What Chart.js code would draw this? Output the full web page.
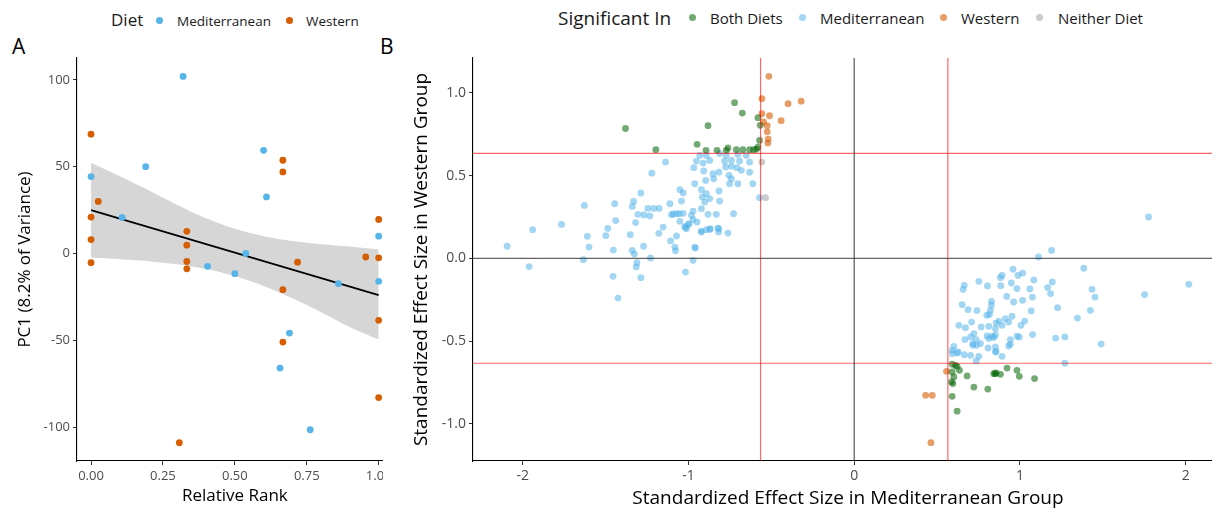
<!DOCTYPE html>
<html><head><meta charset="utf-8">
<script src="https://cdn.jsdelivr.net/npm/chart.js@4.4.1/dist/chart.umd.min.js"></script>
<style>
html,body{margin:0;padding:0;background:#fff}
body{width:1212px;height:508px;overflow:hidden;position:relative;font-family:"Open Sans",sans-serif}
#wrapA{position:absolute;left:0;top:0;width:383px;height:508px;overflow:hidden}
#wrapB{position:absolute;left:385px;top:0;width:827px;height:508px;overflow:hidden}
canvas{position:absolute;left:0;top:0}
.t{position:absolute;white-space:nowrap;color:#1a1a1a}
.dot{position:absolute;border-radius:50%}
</style>
</head><body>
<div class="t" style="left:12px;top:36px;font-size:21px;line-height:21px;color:#000">A</div>
<div class="t" style="left:380px;top:36px;font-size:21px;line-height:21px;color:#000">B</div>

<div class="t" style="left:111px;top:10px;font-size:17px;line-height:20px">Diet</div>
<span class="dot" style="left:156px;top:17px;width:7px;height:7px;background:#56B4E9"></span>
<div class="t" style="left:177px;top:11px;font-size:13.5px;line-height:20px">Mediterranean</div>
<span class="dot" style="left:286px;top:17px;width:7px;height:7px;background:#D55E00"></span>
<div class="t" style="left:306px;top:11px;font-size:13.5px;line-height:20px">Western</div>

<div class="t" style="left:558px;top:6px;font-size:19px;line-height:24px">Significant In</div>
<span class="dot" style="left:689px;top:14px;width:7px;height:7px;background:rgba(0,100,0,0.55)"></span>
<div class="t" style="left:710px;top:8px;font-size:15px;line-height:20px">Both Diets</div>
<span class="dot" style="left:799px;top:14px;width:7px;height:7px;background:rgba(86,180,233,0.55)"></span>
<div class="t" style="left:820px;top:8px;font-size:15px;line-height:20px">Mediterranean</div>
<span class="dot" style="left:940px;top:14px;width:7px;height:7px;background:rgba(213,94,0,0.6)"></span>
<div class="t" style="left:961px;top:8px;font-size:15px;line-height:20px">Western</div>
<span class="dot" style="left:1036px;top:14px;width:7px;height:7px;background:rgba(153,153,153,0.5)"></span>
<div class="t" style="left:1058px;top:8px;font-size:15px;line-height:20px">Neither Diet</div>

<div id="wrapA"><canvas id="cA" width="420" height="508"></canvas></div>
<div id="wrapB"><canvas id="cB" width="842" height="508"></canvas></div>

<script>
// ---------- Panel A data ----------
const medRank  = [0.32, 0, 0.19, 0.60, 0.61, 0.108, 1, 0.538, 0.405, 0.5, 0.86, 1, 0.69, 0.657, 0.762];
const medPC1   = [102, 44.3, 50, 59.4, 32.6, 20.8, 10, 0, -7.4, -11.6, -17.4, -16, -45.8, -66, -101.5];
const westRank = [0, 0.667, 0.667, 0.025, 0, 0, 0.333, 0.333, 1, 0.955, 1, 0, 0.333, 0.333, 0.718, 0.667, 1, 0.667, 1, 0.307];
const westPC1  = [68.7, 53.7, 47, 30, 21, 8, 12.8, 4.8, 19.6, -2, -2.5, -5.3, -4.6, -8.8, -5, -20.8, -38.5, -51, -83, -109];
const fitRank  = [0, 1];
const fitPC1   = [25, -24];
const bandRank  = [0, 0.1, 0.2, 0.3, 0.4, 0.5, 0.6, 0.7, 0.8, 0.9, 1];
const bandUpper = [52.3, 44.5, 36.5, 28, 20.3, 14.2, 10, 7.2, 5.4, 4, 2.3];
const bandLower = [-2.3, -3.3, -4.4, -6.2, -8.9, -13, -18.7, -25.8, -33.8, -42.4, -49.5];
const aXTicks  = [0, 0.25, 0.5, 0.75, 1];
const aXLabels = ["0.00", "0.25", "0.50", "0.75", "1.00"];
const aYTicks  = [-100, -50, 0, 50, 100];
const aYLabels = ["-100", "-50", "0", "50", "100"];

// ---------- Panel B data (Mediterranean effect, Western effect) ----------
const bothDiets = [[-0.722,0.941],[-0.675,0.878],[-0.882,0.802],[-1.38,0.785],[-0.948,0.689],[-1.197,0.657],[-0.894,0.653],[-0.828,0.653],[-0.772,0.653],[-0.762,0.667],[-0.711,0.657],[-0.672,0.657],[-0.631,0.657],[-0.607,0.657],[-0.581,0.850],[-0.567,0.804],[-0.571,0.713],[-0.581,0.672],[-0.59,0.66],
  [0.591,-0.640],[0.611,-0.647],[0.621,-0.653],[0.635,-0.677],[0.591,-0.687],[0.601,-0.717],[0.587,-0.747],[0.595,-0.757],[0.681,-0.711],[0.722,-0.778],[0.806,-0.790],[0.842,-0.697],[0.856,-0.693],[0.850,-0.697],[0.882,-0.701],[0.922,-0.663],[0.982,-0.677],[0.996,-0.713],[1.088,-0.727],[0.591,-0.834],[0.621,-0.924]];
const mediterranean = [[-1.221,0.515],[-1.287,0.395],[-1.331,0.344],[-1.339,0.314],[-1.445,0.330],[-1.628,0.320],[-1.305,0.266],[-1.269,0.262],[-1.233,0.256],[-1.245,0.302],[-1.209,0.302],[-1.177,0.302],[-1.439,0.228],[-1.319,0.216],[-1.766,0.205],[-1.940,0.173],[-1.487,0.181],[-1.499,0.137],[-1.610,0.133],[-1.351,0.143],[-1.179,0.151],[-2.094,0.073],[-1.600,0.068],[-1.453,0.050],[-1.339,0.048],[-1.271,0.073],[-1.327,0.026],[-1.634,-0.008],[-1.311,-0.026],[-1.315,-0.052],[-1.229,0.002],[-1.962,-0.050],[-1.455,-0.109],[-1.287,-0.117],[-1.425,-0.240],
  [-1.138,0.582],[-0.932,0.622],[-0.892,0.622],[-0.812,0.633],[-0.772,0.622],[-0.702,0.628],[-0.651,0.622],[-0.952,0.588],[-0.912,0.576],[-0.872,0.592],[-0.782,0.588],[-0.741,0.592],[-0.692,0.588],[-0.631,0.582],[-0.968,0.548],[-0.908,0.528],[-0.852,0.512],[-0.816,0.521],[-0.776,0.552],[-0.741,0.556],[-0.708,0.548],[-0.631,0.521],[-0.756,0.502],[-0.741,0.481],[-0.681,0.532],[-0.896,0.471],[-0.848,0.481],[-0.752,0.451],[-0.702,0.451],[-0.612,0.451],[-0.962,0.451],[-0.922,0.415],[-1.052,0.415],[-1.032,0.395],[-0.816,0.407],[-0.892,0.391],[-0.916,0.371],[-0.872,0.361],[-0.812,0.346],[-0.902,0.340],[-1.042,0.346],[-1.112,0.330],[-0.571,0.367],[-0.922,0.300],[-0.972,0.286],[-1.056,0.270],[-1.092,0.268],[-1.032,0.272],[-0.882,0.266],[-0.832,0.266],[-0.728,0.270],[-0.982,0.260],[-0.972,0.234],[-1.052,0.224],[-1.022,0.193],[-0.996,0.209],[-0.948,0.219],[-1.012,0.179],[-1.153,0.189],[-0.922,0.165],[-0.892,0.173],[-0.868,0.179],[-0.818,0.179],[-0.818,0.159],[-0.762,0.153],[-1.108,0.105],[-1.082,0.068],[-0.962,0.068],
  [-1.102,0.264],[-1.072,0.270],[-1.002,0.204],[-1.018,0.186],[-1.072,0.135],[-0.922,0.159],[-0.872,0.175],[-0.822,0.183],[-1.078,0.046],[-0.958,0.062],[-0.972,-0.012],[-1.018,-0.083],
  [1.776,0.250],[1.191,0.048],[1.112,0.008],[1.385,-0.060],[1.084,-0.131],[1.195,-0.143],[1.060,-0.185],[1.167,-0.177],[1.185,-0.213],[1.075,-0.234],[1.435,-0.187],[1.453,-0.234],[1.752,-0.219],[2.019,-0.157],[1.068,-0.318],[1.227,-0.298],[1.425,-0.314],[1.347,-0.361],[1.076,-0.461],[1.215,-0.482],[1.271,-0.475],[1.490,-0.518],[1.271,-0.634],
  [0.958,-0.066],[0.892,-0.103],[0.882,-0.117],[0.988,-0.103],[1.016,-0.089],[0.752,-0.139],[0.664,-0.163],[0.657,-0.189],[0.804,-0.167],[0.884,-0.165],[0.948,-0.149],[0.982,-0.183],[0.920,-0.230],[0.962,-0.264],[1.016,-0.254],[0.828,-0.260],[0.828,-0.284],[0.651,-0.280],[0.687,-0.310],[0.740,-0.316],[0.822,-0.314],[0.800,-0.344],[0.816,-0.340],[0.912,-0.365],[0.952,-0.350],[0.872,-0.379],[0.856,-0.391],[1.028,-0.379],[1.006,-0.405],[0.932,-0.385],[0.892,-0.405],[0.708,-0.385],[0.631,-0.405],[0.671,-0.419],[0.766,-0.415],[0.812,-0.411],[0.852,-0.425],[0.722,-0.455],[0.802,-0.469],[0.832,-0.471],[0.852,-0.465],[0.812,-0.485],[0.842,-0.479],[0.942,-0.491],[0.982,-0.471],[0.996,-0.475],[0.736,-0.491],[0.668,-0.491],[0.702,-0.475],[0.738,-0.526],[0.716,-0.526],[0.808,-0.542],[0.852,-0.536],[0.932,-0.530],[0.601,-0.532],[0.591,-0.556],[0.627,-0.566],[0.664,-0.582],[0.702,-0.586],[0.752,-0.592],[0.856,-0.562],[0.892,-0.592],
  [0.736,-0.620],[0.591,-0.576],[0.621,-0.572],[0.852,-0.566],[0.942,-0.520],[0.762,-0.515],[0.716,-0.515]];
const western = [[-0.515,1.10],[-0.557,0.965],[-0.399,0.935],[-0.32,0.95],[-0.557,0.874],[-0.511,0.862],[-0.441,0.832],[-0.525,0.802],[-0.525,0.765],[-0.519,0.721],[-0.521,0.697],[-0.547,0.824],
  [0.557,-0.683],[0.431,-0.828],[0.471,-0.828],[0.463,-1.114]];
const neitherDiet = [[-0.557,0.582],[-0.535,0.367]];
const thresholdMed  = 0.565;   // significance cut-off, Mediterranean
const thresholdWest = 0.634;   // significance cut-off, Western
const bXTicks  = [-2, -1, 0, 1, 2];
const bXLabels = ["-2", "-1", "0", "1", "2"];
const bYTicks  = [-1, -0.5, 0, 0.5, 1];
const bYLabels = ["-1.0", "-0.5", "0.0", "0.5", "1.0"];

// ---------- helpers ----------
const FONT = '"Open Sans", sans-serif';
const TICK = '#4D4D4D';
const pts = (xs, ys) => xs.map((x, i) => ({x: x, y: ys[i]}));
const pairs = arr => arr.map(p => ({x: p[0], y: p[1]}));

function axis(opts) {
  return {
    type: 'linear',
    position: opts.position,
    min: opts.min, max: opts.max,
    afterBuildTicks: s => { s.ticks = opts.ticks.map(v => ({value: v})); },
    afterFit: s => { if (opts.width) s.width = opts.width; if (opts.height) s.height = opts.height; },
    ticks: {
      autoSkip: false, maxRotation: 0, includeBounds: false,
      color: TICK, font: {family: FONT, size: opts.tickSize}, padding: 3,
      callback: (v, i) => opts.labels[i]
    },
    grid: {display: true, drawOnChartArea: false, drawTicks: true, tickLength: 4, tickColor: '#333', color: '#333'},
    border: {display: true, color: '#000', width: 1.1},
    title: {display: true, text: opts.title, color: '#000',
            font: {family: FONT, size: opts.titleSize, lineHeight: 1}, padding: opts.titlePad}
  };
}

// ---------- Panel A ----------
new Chart(document.getElementById('cA'), {
  type: 'scatter',
  data: {
    datasets: [
      {type: 'line', label: 'upper', data: pts(bandRank, bandUpper), borderWidth: 0, pointRadius: 0,
       fill: '+1', backgroundColor: 'rgba(153,153,153,0.4)', tension: 0.3, order: 3},
      {type: 'line', label: 'lower', data: pts(bandRank, bandLower), borderWidth: 0, pointRadius: 0,
       fill: false, tension: 0.3, order: 3},
      {type: 'line', label: 'fit', data: pts(fitRank, fitPC1), borderColor: '#000', borderWidth: 1.7,
       pointRadius: 0, fill: false, order: 2},
      {label: 'Mediterranean', data: pts(medRank, medPC1), backgroundColor: '#56B4E9',
       pointRadius: 3.4, borderWidth: 0, order: 1},
      {label: 'Western', data: pts(westRank, westPC1), backgroundColor: '#D55E00',
       pointRadius: 3.4, borderWidth: 0, order: 1}
    ]
  },
  options: {
    responsive: false, animation: false, events: [],
    layout: {padding: {top: 58, left: 0, right: 27.3, bottom: 0}},
    plugins: {legend: {display: false}, tooltip: {enabled: false}},
    scales: {
      x: axis({position: 'bottom', min: -0.0488, max: 1.0488, ticks: aXTicks, labels: aXLabels,
               height: 47, tickSize: 13, title: 'Relative Rank', titleSize: 17, titlePad: {top: 0, bottom: 3}}),
      y: axis({position: 'left', min: -119.5, max: 112.6, ticks: aYTicks, labels: aYLabels,
               width: 77, tickSize: 13, title: 'PC1 (8.2% of Variance)', titleSize: 17, titlePad: {top: 16.5, bottom: 0}})
    }
  }
});

// ---------- Panel B ----------
const refLine = (data, color, w) => ({type: 'line', data: data, borderColor: color, borderWidth: w,
  pointRadius: 0, fill: false, order: 0});
const ptSet = (label, arr, color) => ({label: label, data: pairs(arr), backgroundColor: color,
  pointRadius: 3.4, borderWidth: 0, order: 1});

new Chart(document.getElementById('cB'), {
  type: 'scatter',
  data: {
    datasets: [
      refLine([{x: 0, y: -5}, {x: 0, y: 5}], 'rgba(60,60,60,0.8)', 1.3),
      refLine([{x: -5, y: 0}, {x: 5, y: 0}], 'rgba(60,60,60,0.8)', 1.3),
      refLine([{x: -thresholdMed, y: -5}, {x: -thresholdMed, y: 5}], 'rgba(255,0,0,0.6)', 1.2),
      refLine([{x: thresholdMed, y: -5}, {x: thresholdMed, y: 5}], 'rgba(255,0,0,0.6)', 1.2),
      refLine([{x: -5, y: thresholdWest}, {x: 5, y: thresholdWest}], 'rgba(255,0,0,0.6)', 1.2),
      refLine([{x: -5, y: -thresholdWest}, {x: 5, y: -thresholdWest}], 'rgba(255,0,0,0.6)', 1.2),
      ptSet('Both Diets', bothDiets, 'rgba(0,100,0,0.55)'),
      ptSet('Mediterranean', mediterranean, 'rgba(86,180,233,0.55)'),
      ptSet('Western', western, 'rgba(213,94,0,0.6)'),
      ptSet('Neither Diet', neitherDiet, 'rgba(153,153,153,0.5)')
    ]
  },
  options: {
    responsive: false, animation: false, events: [],
    layout: {padding: {top: 58, left: 0, right: 0, bottom: 0}},
    plugins: {legend: {display: false}, tooltip: {enabled: false}},
    scales: {
      x: axis({position: 'bottom', min: -2.30, max: 2.225, ticks: bXTicks, labels: bXLabels,
               height: 47, tickSize: 14, title: 'Standardized Effect Size in Mediterranean Group', titleSize: 19, titlePad: {top: 0, bottom: 0}}),
      y: axis({position: 'left', min: -1.225, max: 1.211, ticks: bYTicks, labels: bYLabels,
               width: 88, tickSize: 14, title: 'Standardized Effect Size in Western Group', titleSize: 19, titlePad: {top: 27, bottom: 0}})
    }
  }
});
</script>
</body></html>
